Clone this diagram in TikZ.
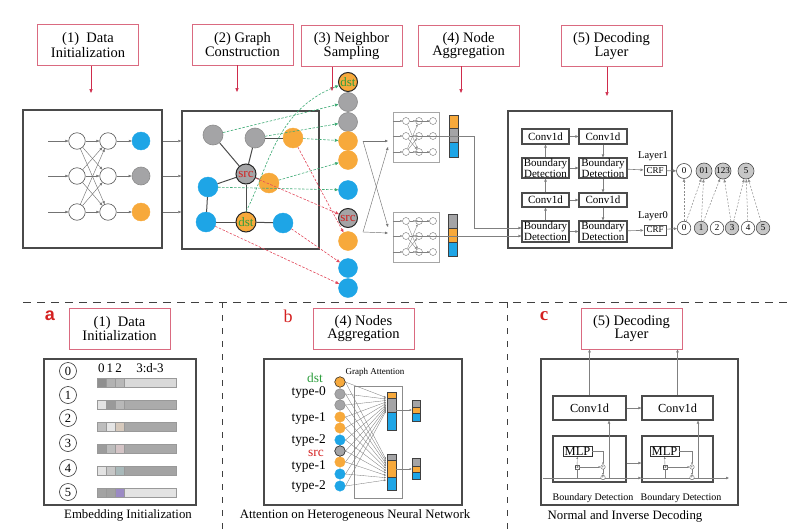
\documentclass[tikz,border=0pt]{standalone}
\usepackage{fontspec}
\setmainfont{Liberation Serif}
\setsansfont{Liberation Sans}
\usetikzlibrary{arrows.meta,calc}
\definecolor{cblue}{HTML}{1EA5E6}
\definecolor{corange}{HTML}{F7A93B}
\definecolor{cgray}{HTML}{A4A4A6}
\definecolor{hdr}{HTML}{DA6A80}
\definecolor{harrow}{HTML}{CF2B4B}
\definecolor{gdash}{HTML}{3DAA74}
\definecolor{rdash}{HTML}{E24A5C}
\definecolor{frame}{HTML}{4A4A4A}
\definecolor{lred}{HTML}{D42020}
\definecolor{dgreen}{HTML}{2E9E3E}
\definecolor{beige}{HTML}{D6C9BC}
\definecolor{pinkg}{HTML}{D4C4C6}
\definecolor{tealg}{HTML}{A9B9BA}
\definecolor{purp}{HTML}{9B8AC4}
\begin{document}
\begin{tikzpicture}[x=1pt,y=-1pt,
 hdrbox/.style={draw=hdr, line width=0.7pt, inner sep=0pt, minimum width=101pt, minimum height=41pt, align=center, font=\fontsize{14.5}{12.5}\selectfont},
 frm/.style={draw=frame, line width=1.4pt, inner sep=0pt},
 harr/.style={draw=harrow, line width=0.7pt, -{Triangle[length=4pt,width=3.2pt]}},
 sarr/.style={draw=black!55, line width=0.45pt, -{Triangle[length=3pt,width=2.4pt]}},
 tarr/.style={draw=black!50, line width=0.35pt, -{Triangle[length=2pt,width=1.8pt]}},
 darr/.style={draw=black!50, line width=0.6pt, -{Triangle[length=3pt,width=2.5pt]}},
 ddash/.style={draw=black!45, line width=0.5pt, dash pattern=on 2pt off 1.5pt, -{Triangle[length=3pt,width=2.5pt]}},
 gd/.style={draw=gdash, line width=0.6pt, dash pattern=on 2.5pt off 1.5pt, -{Triangle[length=3.5pt,width=3pt]}},
 rd/.style={draw=rdash, line width=0.6pt, dash pattern=on 2.5pt off 1.5pt, -{Triangle[length=3.5pt,width=3pt]}},
 wc/.style={circle, draw=black!65, line width=0.6pt, fill=white, minimum size=#1, inner sep=0pt},
 bc/.style={circle, draw=cblue, fill=cblue, minimum size=#1, inner sep=0pt},
 oc/.style={circle, draw=corange, fill=corange, minimum size=#1, inner sep=0pt},
 gc/.style={circle, draw=black!45, line width=0.6pt, fill=cgray, minimum size=#1, inner sep=0pt},
 srcn/.style={circle, draw=black!85, line width=1pt, fill=cgray, minimum size=#1, inner sep=0pt, text=lred, font=\fontsize{13}{13}\selectfont},
 dstn/.style={circle, draw=black!85, line width=1pt, fill=corange, minimum size=#1, inner sep=0pt, text=dgreen, font=\fontsize{13}{13}\selectfont},
 gedge/.style={draw=black!70, line width=1pt},
 mc/.style={circle, draw=black!55, line width=0.4pt, fill=white, minimum size=7pt, inner sep=0pt},
 seg/.style={rectangle, draw=black!75, line width=0.6pt, minimum width=9pt, inner sep=0pt},
 dbox/.style={rectangle, draw=black!70, line width=1.1pt, fill=white, inner sep=0pt, align=center, minimum width=47pt, font=\fontsize{11}{9.5}\selectfont},
 crf/.style={rectangle, draw=black!70, line width=1pt, font=\fontsize{9}{9}\selectfont, minimum width=22pt, minimum height=10pt, inner sep=0pt},
 oww/.style={circle, draw=black!70, line width=0.6pt, fill=white, minimum size=#1, inner sep=0pt},
 ogg/.style={circle, draw=black!70, line width=0.6pt, fill=black!22, minimum size=#1, inner sep=0pt},
 cbox/.style={rectangle, draw=black!70, line width=1.2pt, inner sep=0pt, minimum height=24pt, font=\fontsize{12.3}{12}\selectfont},
 sdash/.style={draw=black!75, line width=0.9pt, dash pattern=on 8pt off 6pt}
]
\useasboundingbox (0,0) rectangle (787,530);

% ---------------- headers ----------------
\node[hdrbox] (h1) at (88,45) {(1)~~Data\\Initialization};
\node[hdrbox] (h2) at (242.5,44.5) {(2) Graph\\Construction};
\node[hdrbox] (h3) at (351.5,46) {(3) Neighbor\\Sampling};
\node[hdrbox] (h4) at (468.5,45.5) {(4) Node\\Aggregation};
\node[hdrbox] (h5) at (611.5,46) {(5) Decoding\\Layer};
\coordinate (e1) at (91,93);
\coordinate (e2) at (237,92);
\coordinate (e3) at (332,91);
\coordinate (e4) at (461,93);
\coordinate (e5) at (607,96);
\foreach \i in {1,...,5}{\draw[harr] (e\i |- h\i.south) -- (e\i);}

% ---------------- panel 1 ----------------
\node[frm, minimum width=139pt, minimum height=138pt] (f1) at (92.5,179) {};
\foreach \r/\y in {1/141,2/176,3/212}{
  \node[wc=16.5pt] (pa\r) at (77,\y) {};
  \node[wc=16.5pt] (pb\r) at (108,\y) {};
  \coordinate (pin\r) at (48,\y);
}
\node[bc=18pt] (pc1) at (141,141) {};
\node[gc=18pt] (pc2) at (141,176) {};
\node[oc=18pt] (pc3) at (141,212) {};
\foreach \r in {1,2,3}{
  \draw[sarr] (pin\r) -- (pa\r);
  \draw[sarr] (pb\r) -- (pc\r);
  \foreach \s in {1,2,3}{\draw[sarr] (pa\r) -- (pb\s);}
}

% ---------------- panel 2 ----------------
\node[frm, minimum width=137pt, minimum height=138pt] (f2) at (250.5,180) {};
\foreach \r in {1,2,3}{\draw[sarr] (f1.east |- pc\r) -- (f2.west |- pc\r);}
\node[gc=20pt] (gA) at (213,135) {};
\node[gc=20pt] (gB) at (255,138) {};
\node[oc=20pt] (oA) at (293,138) {};
\node[srcn=20pt] (gsrc) at (246,174) {src};
\node[oc=20pt] (oB) at (269,183) {};
\node[bc=20pt] (bA) at (208,187) {};
\node[bc=20pt] (bB) at (206,222) {};
\node[dstn=20pt] (gdst) at (246,222) {dst};
\node[bc=20pt] (bC) at (283,223) {};
\draw[gedge] (gA) -- (gsrc);
\draw[gedge] (gB) -- (gsrc);
\draw[gedge] (gB) -- (oA);
\draw[gedge] (gsrc) -- (bA);
\draw[gedge] (gsrc) -- (oB);
\draw[gedge] (gsrc) -- (gdst);
\draw[gedge] (bA) -- (bB);
\draw[gedge] (bB) -- (gdst);
\draw[gedge] (gdst) -- (bC);

% ---------------- neighbor sampling column ----------------
\node[dstn=19pt] (n1) at (348,82) {dst};
\node[gc=19pt] (n2) at (348,102) {};
\node[gc=19pt] (n3) at (348,122) {};
\node[oc=19pt] (n4) at (348,141) {};
\node[oc=19pt] (n5) at (348,160) {};
\node[bc=19pt] (n6) at (348,190) {};
\node[srcn=19pt] (n7) at (348,218) {src};
\node[oc=19pt] (n8) at (348,241) {};
\node[bc=19pt] (n9) at (348,268) {};
\node[bc=19pt] (n10) at (348,288) {};
\draw[gd] (gA) -- (n2);
\draw[gd] (gdst.north) .. controls (268,170) and (275,110) .. (n1);
\draw[gd] (gB) -- (n3);
\draw[gd] (oA) -- (n4);
\draw[gd] (oB) -- (n5);
\draw[gd] (bA) -- (n6);
\draw[rd] (gsrc) -- (n7);
\draw[rd] (oA) -- (n8);
\draw[rd] (bC) -- (n9);
\draw[rd] (bB) -- (n10);

% ---------------- node aggregation ----------------
\coordinate (xa) at (363,141);
\coordinate (xb) at (363,232);
\coordinate (ta) at (388,141);
\coordinate (tb) at (388,147);
\coordinate (ba) at (388,227);
\coordinate (bb) at (388,233);
\draw[sarr] (xa) -- (ta);
\draw[sarr] (xa) -- (ba);
\draw[sarr] (xb) -- (tb);
\draw[sarr] (xb) -- (bb);
\node[draw=black!35, line width=0.5pt, minimum width=46pt, minimum height=50pt, inner sep=0pt] (mt) at (416,137) {};
\node[draw=black!35, line width=0.5pt, minimum width=46pt, minimum height=50pt, inner sep=0pt] (mu) at (416,237) {};
\node[seg, fill=corange, minimum height=13pt] (tb1) at (453.5,121.5) {};
\node[seg, fill=cgray, minimum height=14pt] (tb2) at (453.5,135) {};
\node[seg, fill=cblue, minimum height=15pt] (tb3) at (453.5,149.5) {};
\node[seg, fill=cgray, minimum height=14pt] (ub1) at (452.5,221) {};
\node[seg, fill=corange, minimum height=14pt] (ub2) at (452.5,235) {};
\node[seg, fill=cblue, minimum height=14pt] (ub3) at (452.5,249) {};
\foreach \k/\yo in {t/0,u/100}{
  \foreach \r/\y in {1/121,2/136,3/152}{
    \node[mc] (\k a\r) at (406,\y+\yo) {};
    \node[mc] (\k b\r) at (419,\y+\yo) {};
    \node[mc] (\k c\r) at (433,\y+\yo) {};
  }
  \foreach \r in {1,2,3}{
    \draw[tarr] (m\k.west |- \k a\r) -- (\k a\r);
    \draw[tarr] (\k a\r) -- (\k b\r);
    \draw[tarr] (\k b\r) -- (\k c\r);
  }
  \draw[tarr] (\k a1) -- (\k b3);
  \draw[tarr] (\k a3) -- (\k b1);
  \draw[tarr] (\k a2) -- (\k b3);
  \draw[tarr] (\k a3) -- (\k b2);
}
\foreach \r in {1,2,3}{
  \draw[tarr] (tc\r) -- (tb1.west |- tc\r);
  \draw[tarr] (uc\r) -- (ub1.west |- uc\r);
}
\coordinate (k1) at (474,228);
\draw[draw=black!50, line width=0.6pt] (tb2.east) -| (k1);

% ---------------- decoding ----------------
\node[frm, minimum width=164pt, minimum height=137pt] (f5) at (590,179.5) {};
\node[dbox, minimum height=15pt] (c1L) at (545.5,136.5) {Conv1d};
\node[dbox, minimum height=15pt, minimum width=48pt] (c1R) at (603,136.5) {Conv1d};
\node[dbox, minimum height=20pt] (b2L) at (545.5,168) {Boundary\\Detection};
\node[dbox, minimum height=20pt, minimum width=48pt] (b2R) at (603,168) {Boundary\\Detection};
\node[dbox, minimum height=14pt] (c3L) at (545.5,200) {Conv1d};
\node[dbox, minimum height=14pt, minimum width=48pt] (c3R) at (603,200) {Conv1d};
\node[dbox, minimum height=21pt] (b4L) at (545.5,231.5) {Boundary\\Detection};
\node[dbox, minimum height=21pt, minimum width=48pt] (b4R) at (603,231.5) {Boundary\\Detection};
\draw[darr] (k1) -- (b4L.west |- k1);
\draw[darr] (ub2.east) -- (b4L.west |- ub2.east);
\draw[darr] (b4L) -- (c3L);
\draw[darr] (c3L) -- (b2L);
\draw[darr] (b2L) -- (c1L);
\draw[darr] (c1L) -- (c1R);
\draw[darr] (c1R) -- (b2R);
\draw[darr] (b2L) -- (b2R);
\draw[darr] (b2R) -- (c3R);
\draw[darr] (c3L) -- (c3R);
\draw[darr] (c3R) -- (b4R);
\draw[darr] (b4L) -- (b4R);
\node[crf] (crf1) at (655,170.5) {CRF};
\node[crf] (crf0) at (655,230) {CRF};
\node[font=\fontsize{10.5}{10.5}\selectfont] (ly1) at (653,156) {Layer1};
\node[font=\fontsize{10.5}{10.5}\selectfont] (ly0) at (653,216) {Layer0};
\draw[darr] (b2R) -- (crf1);
\draw[darr] (b4R) -- (crf0);
\begin{scope}[every node/.append style={font=\fontsize{9}{9}\selectfont}]
\node[oww=15pt] (t0) at (684,171) {0};
\node[ogg=16pt] (t01) at (704,171) {01};
\node[ogg=16pt] (t123) at (723,171) {123};
\node[ogg=16pt] (t5) at (746,171) {5};
\node[oww=13.5pt] (q0) at (684,228) {0};
\node[ogg=13.5pt] (q1) at (701,228) {1};
\node[oww=13.5pt] (q2) at (717,228) {2};
\node[ogg=13.5pt] (q3) at (732,228) {3};
\node[oww=13.5pt] (q4) at (748,228) {4};
\node[ogg=13.5pt] (q5) at (763,228) {5};
\end{scope}
\draw[darr] (crf1) -- (t0);
\draw[darr] (crf0) -- (q0);
\draw[ddash] (q0) -- (t0);
\draw[ddash] (q0) -- (t01);
\draw[ddash] (q1) -- (t01);
\draw[ddash] (q1) -- (t123);
\draw[ddash] (q3) -- (t123);
\draw[ddash] (q3) -- (t5);
\draw[ddash] (q4) -- (t5);
\draw[ddash] (q5) -- (t5);

% ---------------- separators ----------------
\draw[sdash] (23,302) -- (787,302);
\draw[sdash, line width=0.7pt, dash pattern=on 6pt off 7pt] (222,302) -- (222,530);
\draw[sdash, line width=0.7pt, dash pattern=on 6pt off 7pt] (507,302) -- (507,530);

% ---------------- section a ----------------
\node[text=lred, font=\sffamily\bfseries\fontsize{18}{18}\selectfont] (la) at (50,316) {a};
\node[hdrbox] (ha) at (119.5,328.5) {(1)~~Data\\Initialization};
\node[frm, line width=1.2pt, minimum width=152pt, minimum height=146pt] (fa) at (120,432) {};
\node[font=\fontsize{13}{13}\selectfont] (hd1) at (110,368) {0\,1\,2};
\node[font=\fontsize{13}{13}\selectfont] (hd2) at (150,368) {3:d-3};
\foreach \i/\cy in {0/371,1/395,2/418,3/443,4/468,5/492}{
  \node[wc=17pt, draw=black!80, font=\fontsize{12.5}{12.5}\selectfont] (en\i) at (68,\cy) {\i};
}
\foreach \y/\ca/\cb/\cc/\cd in {383/black!44/black!30/black!28/black!15, 405/black!11/black!40/black!28/black!33, 427/black!26/black!10/beige/black!34, 449/black!39/black!26/pinkg/black!34, 471/black!11/black!22/tealg/black!36, 493/black!36/black!37/purp/black!11}{
  \filldraw[fill=\cd, draw=black!40, line width=0.4pt] (124,\y-4.5) rectangle (176,\y+4.5);
  \filldraw[fill=\ca, draw=black!40, line width=0.4pt] (97,\y-4.5) rectangle (106,\y+4.5);
  \filldraw[fill=\cb, draw=black!40, line width=0.4pt] (106,\y-4.5) rectangle (115,\y+4.5);
  \filldraw[fill=\cc, draw=black!40, line width=0.4pt] (115,\y-4.5) rectangle (124,\y+4.5);
}
\node[font=\fontsize{12.8}{12.8}\selectfont] (capa) at (128,515) {Embedding Initialization};

% ---------------- section b ----------------
\node[text=lred, font=\fontsize{18}{18}\selectfont] (lb) at (288,316) {b};
\node[hdrbox] (hb) at (363.5,328.5) {(4) Nodes\\Aggregation};
\node[frm, line width=1.2pt, minimum width=198pt, minimum height=146pt] (fb) at (363,432) {};
\node[font=\fontsize{9}{9}\selectfont] (gatt) at (375,372) {Graph Attention};
\begin{scope}[every node/.append style={font=\fontsize{13.4}{13}\selectfont, anchor=east, inner sep=0pt}]
\node[text=dgreen] (ldst) at (323,377.5) {dst};
\node (lt0) at (326,392) {type-0};
\node (lt1) at (326,419) {type-1};
\node (lt2) at (326,440.5) {type-2};
\node[text=lred] (lsrc) at (324,453.5) {src};
\node (lt3) at (326,467) {type-1};
\node (lt4) at (326,487) {type-2};
\end{scope}
\node[draw=black!45, line width=0.5pt, minimum width=48pt, minimum height=112pt, inner sep=0pt] (att) at (378,442) {};
\node[seg, fill=corange, minimum height=6pt] (ab1) at (391.5,395) {};
\node[seg, fill=cgray, minimum height=14pt] (ab2) at (391.5,405) {};
\node[seg, fill=cblue, minimum height=18pt] (ab3) at (391.5,421) {};
\node[seg, fill=cgray, minimum height=6pt] (ac1) at (391.5,457) {};
\node[seg, fill=corange, minimum height=17pt] (ac2) at (391.5,468.5) {};
\node[seg, fill=cblue, minimum height=13pt] (ac3) at (391.5,483.5) {};
\node[seg, fill=cgray, minimum height=7pt, minimum width=8pt] (sb1) at (416,403.5) {};
\node[seg, fill=corange, minimum height=6pt, minimum width=8pt] (sb2) at (416,410) {};
\node[seg, fill=cblue, minimum height=8pt, minimum width=8pt] (sb3) at (416,417) {};
\node[seg, fill=cgray, minimum height=8pt, minimum width=8pt] (sc1) at (416,462) {};
\node[seg, fill=corange, minimum height=6pt, minimum width=8pt] (sc2) at (416,469) {};
\node[seg, fill=cblue, minimum height=7pt, minimum width=8pt] (sc3) at (416,475.5) {};
\foreach \i/\y/\st in {1/382/oc,2/394/gc,3/405/gc,4/417/oc,5/428/oc,6/440/bc,7/451/gc,8/462/oc,9/474/bc,10/486/bc}{
  \node[\st=10.5pt] (qq\i) at (340,\y) {};
  \coordinate (tt\i) at (386,{396+\i*1.5});
  \coordinate (bt\i) at (386,{457+\i*2.3});
  \draw[tarr] (qq\i.east) -- (tt\i);
  \draw[tarr] (qq\i.east) -- (bt\i);
}
\draw[draw=black!80, line width=0.6pt] (qq1) circle (5.25pt);
\draw[draw=black!80, line width=0.6pt] (qq7) circle (5.25pt);
\draw[tarr] (ab2.east |- sb2) -- (sb2.west);
\draw[tarr] (ac2.east |- sc2) -- (sc2.west);
\node[font=\fontsize{12.8}{12.8}\selectfont] (capb) at (355,515) {Attention on Heterogeneous Neural Network};

% ---------------- section c ----------------
\node[text=lred, font=\bfseries\fontsize{19}{19}\selectfont] (lc) at (544,316) {c};
\node[hdrbox] (hc) at (631.5,328.5) {(5) Decoding\\Layer};
\node[frm, line width=1.2pt, minimum width=197pt, minimum height=146pt] (fc) at (639.5,432) {};
\node[cbox, minimum width=73pt] (cvL) at (589.5,408) {Conv1d};
\node[cbox, minimum width=71pt] (cvR) at (677.5,408) {Conv1d};
\node[cbox, minimum width=73pt, minimum height=46pt] (bdL) at (589.5,459) {};
\node[cbox, minimum width=71pt, minimum height=46pt] (bdR) at (677.5,459) {};
\draw[darr] (cvL.north) -- (cvL.north |- hc.south);
\draw[darr] (cvR.north) -- (cvR.north |- hc.south);
\draw[darr] (cvL) -- (cvR);
\coordinate (y463) at (0,463);
\draw[darr] (bdL.east |- y463) -- (bdR.west |- y463);
\coordinate (mS) at (543,478);
\coordinate (mE) at (729,478);
\draw[darr] (mS) -- (bdR.west |- mS);
\draw[darr] (bdR.west |- mS) -- (mE);
\coordinate (vL) at (609,478);
\coordinate (vR) at (698,478);
\draw[darr] (vL) -- (vL |- cvL.south);
\draw[darr] (vR) -- (vR |- cvR.south);
\foreach \s/\mx/\ax/\px in {L/577.5/577/603, R/664.5/665/692}{
  \node[draw=black!80, line width=0.8pt, minimum width=29pt, minimum height=10pt, inner sep=0pt, fill=white, font=\fontsize{12.5}{12}\selectfont] (mlp\s) at (\mx,451.5) {MLP};
  \node[draw=black!60, line width=0.4pt, minimum size=4pt, inner sep=0pt, font=\fontsize{3.5}{3.5}\selectfont] (al\s) at (\ax,467) {$\alpha$};
  \node[circle, draw=black!60, line width=0.4pt, minimum size=4.5pt, inner sep=0pt, fill=white, font=\fontsize{4}{4}\selectfont] (pp\s) at (\px,467) {+};
  \node[circle, draw=black!60, line width=0.4pt, minimum size=4.5pt, inner sep=0pt, fill=white, font=\fontsize{4}{4}\selectfont] (pq\s) at (\px,477.5) {+};
  \draw[tarr] (mlp\s.east) -| (pp\s);
  \draw[tarr] (al\s) -- (mlp\s);
  \draw[tarr] (al\s) -- (pp\s);
  \draw[tarr] (pp\s) -- (pq\s);
  \draw[draw=black!50, line width=0.35pt] (al\s |- mS) -- (al\s);
}
\node[font=\fontsize{10}{10}\selectfont] (lbd1) at (593,498) {Boundary Detection};
\node[font=\fontsize{10}{10}\selectfont] (lbd2) at (681,498) {Boundary Detection};
\node[font=\fontsize{12.8}{12.8}\selectfont] (capc) at (625,516) {Normal and Inverse Decoding};
\end{tikzpicture}
\end{document}
